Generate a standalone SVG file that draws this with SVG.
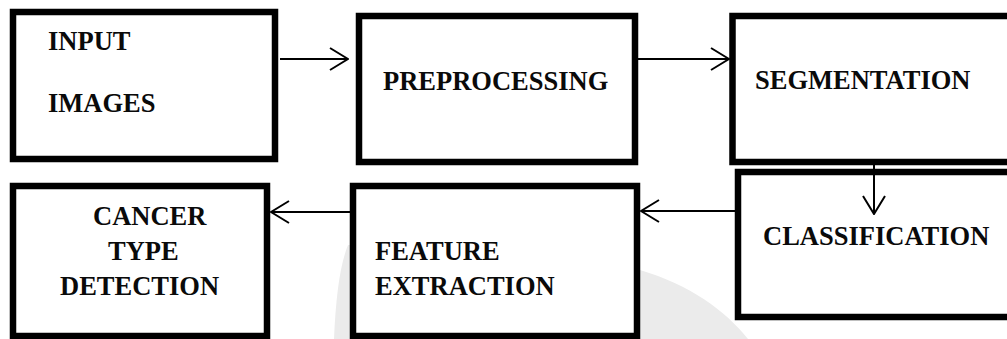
<svg xmlns="http://www.w3.org/2000/svg" width="1007" height="339" viewBox="0 0 1007 339">
  <style>
    .box { fill: #ffffff; stroke: #000000; stroke-width: 6.5; }
    .lbl { font-weight: bold; font-size: 26.5px; fill: #0a0a0a; }
    .wire { fill: none; stroke: #000000; stroke-width: 2; }
  </style>
  <defs>
    <marker id="chevron" viewBox="0 0 20 24" refX="19" refY="12" markerWidth="20" markerHeight="24" markerUnits="userSpaceOnUse" orient="auto">
      <polyline points="1,1 19,12 1,23" fill="none" stroke="#000000" stroke-width="2"/>
    </marker>
  </defs>
  <rect width="1007" height="339" fill="#ffffff"/>

  <!-- faint background mark behind the lower row -->
  <path d="M 334 339 C 336 295 340 265 348 245 L 640 245 L 640 270 C 690 285 725 310 748 339 Z" fill="#ebebeb"/>

  <g font-family="'Liberation Serif', 'Times New Roman', Times, serif">
    <g id="input-images">
      <rect class="box" x="13" y="12" width="262" height="147"/>
      <text class="lbl" x="48" y="50">INPUT</text>
      <text class="lbl" x="48" y="112">IMAGES</text>
    </g>

    <g id="preprocessing">
      <rect class="box" x="359" y="16" width="276" height="146"/>
      <text class="lbl" x="383" y="90">PREPROCESSING</text>
    </g>

    <g id="segmentation">
      <rect class="box" x="732.5" y="16" width="300" height="146"/>
      <text class="lbl" x="755" y="89">SEGMENTATION</text>
    </g>

    <g id="classification">
      <rect class="box" x="738" y="172" width="300" height="145"/>
      <text class="lbl" x="763" y="245">CLASSIFICATION</text>
    </g>

    <g id="feature-extraction">
      <rect class="box" x="353" y="186" width="284" height="150"/>
      <text class="lbl" x="375" y="260">FEATURE</text>
      <text class="lbl" x="375" y="295">EXTRACTION</text>
    </g>

    <g id="cancer-type-detection">
      <rect class="box" x="13" y="186" width="254" height="150"/>
      <text class="lbl" x="93" y="225">CANCER</text>
      <text class="lbl" x="108" y="260">TYPE</text>
      <text class="lbl" x="60" y="295">DETECTION</text>
    </g>
  </g>

  <g id="connectors">
    <line class="wire" x1="280" y1="59" x2="348" y2="59" marker-end="url(#chevron)"/>
    <line class="wire" x1="638" y1="59" x2="729" y2="59" marker-end="url(#chevron)"/>
    <line class="wire" x1="874" y1="165" x2="874" y2="214" marker-end="url(#chevron)"/>
    <line class="wire" x1="735" y1="211" x2="641" y2="211" marker-end="url(#chevron)"/>
    <line class="wire" x1="350" y1="212" x2="271" y2="212" marker-end="url(#chevron)"/>
  </g>
</svg>
